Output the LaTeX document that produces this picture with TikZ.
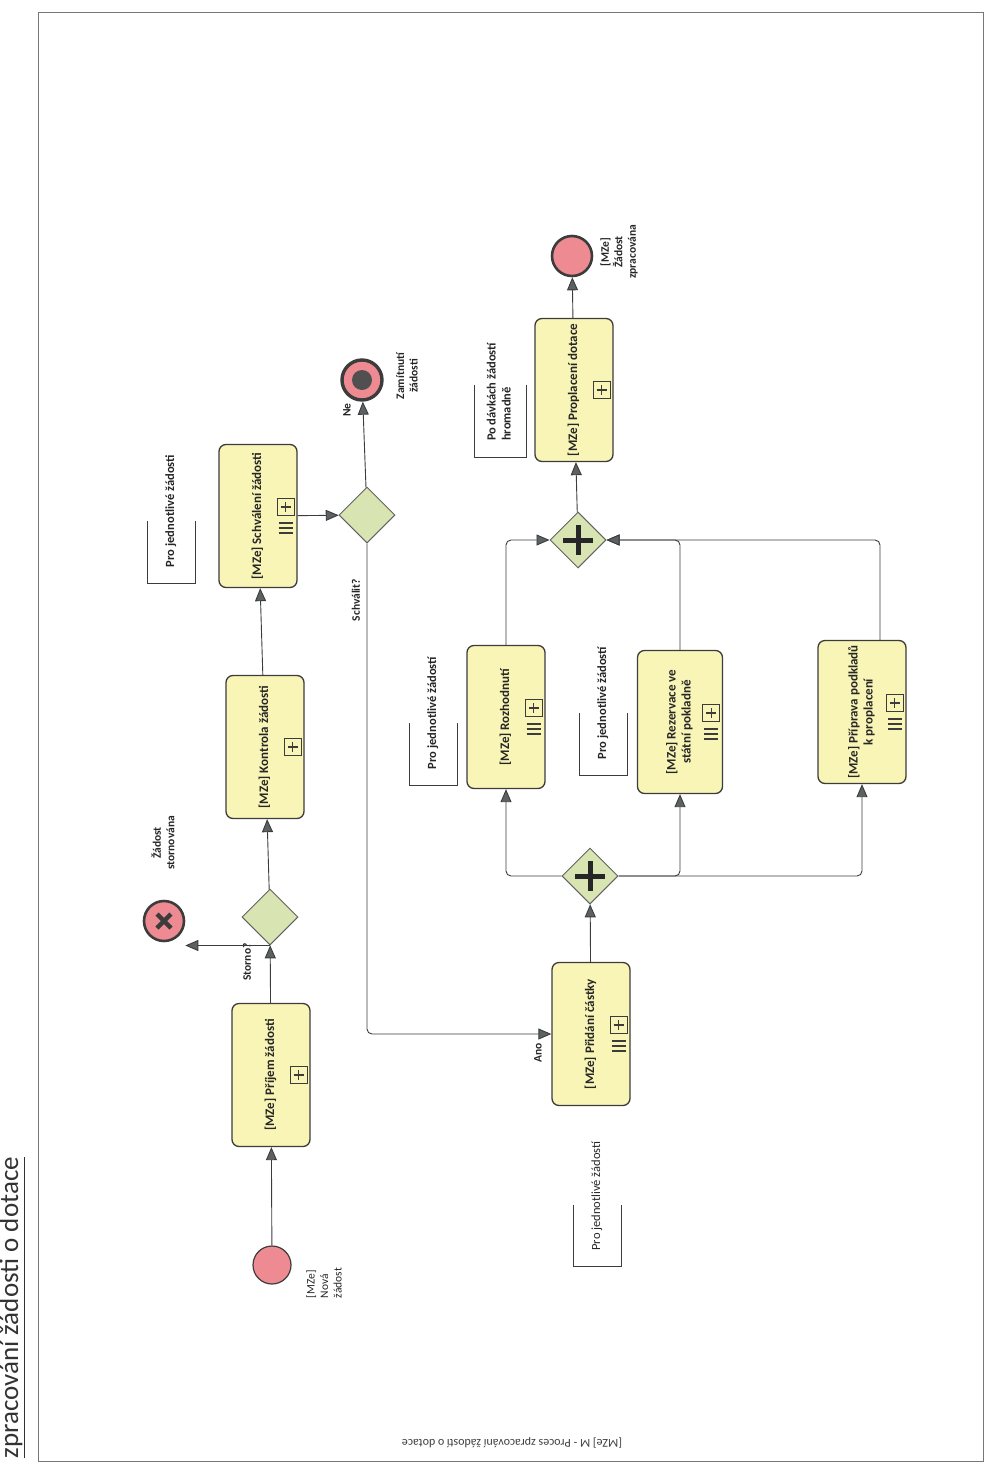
\documentclass[tikz,border=0pt]{standalone}
\usepackage{fontspec}
\setmainfont{Carlito}
\usepackage{tikz}
\usetikzlibrary{arrows.meta,shapes.geometric,positioning}
\definecolor{taskfill}{HTML}{F8F5B6}
\definecolor{gwfill}{HTML}{D8E5B2}
\definecolor{evfill}{HTML}{EE8A92}
\definecolor{linedark}{HTML}{3C3C3C}
\definecolor{tipgray}{HTML}{5C6163}
\newcommand{\rtext}[1]{\rotatebox{90}{\begin{tabular}{@{}c@{}}#1\end{tabular}}}
\newcommand{\rtextl}[1]{\rotatebox{90}{\begin{tabular}{@{}l@{}}#1\end{tabular}}}
\begin{document}
\begin{tikzpicture}[x=1pt,y=-1pt,
 task/.style={rectangle,rounded corners=7pt,draw=linedark,line width=1.3pt,fill=taskfill,minimum width=78pt,minimum height=143pt,inner sep=2pt,text=black!85,font=\fontsize{13}{15}\selectfont\bfseries},
 plusbox/.style={rectangle,draw=linedark,line width=1pt,fill=taskfill,minimum size=17pt,inner sep=0pt,
  path picture={\draw[line width=1.1pt,linedark] ([yshift=-3.5pt]path picture bounding box.north) -- ([yshift=3.5pt]path picture bounding box.south) ([xshift=3.5pt]path picture bounding box.west) -- ([xshift=-3.5pt]path picture bounding box.east);}},
 startev/.style={circle,draw=linedark,line width=1.2pt,fill=evfill,minimum size=38pt,inner sep=0pt},
 endev/.style={circle,draw=linedark,line width=2.6pt,fill=evfill,minimum size=40pt,inner sep=0pt},
 cancelev/.style={endev,path picture={\draw[line width=4.5pt,linedark] ([shift={(-7pt,-7pt)}]path picture bounding box.center) -- ([shift={(7pt,7pt)}]path picture bounding box.center) ([shift={(-7pt,7pt)}]path picture bounding box.center) -- ([shift={(7pt,-7pt)}]path picture bounding box.center);}},
 termev/.style={endev,line width=3.4pt,path picture={\fill[linedark!90] (path picture bounding box.center) circle (10pt);}},
 gateway/.style={diamond,aspect=1,draw=linedark!80,line width=1pt,fill=gwfill,minimum width=56pt,minimum height=56pt,inner sep=0pt},
 pargw/.style={gateway,path picture={\draw[line width=5pt,black!85] ([yshift=-13pt]path picture bounding box.north) -- ([yshift=13pt]path picture bounding box.south) ([xshift=13pt]path picture bounding box.west) -- ([xshift=-13pt]path picture bounding box.east);}},
 flow/.style={draw=linedark,line width=0.9pt,rounded corners=5pt,-{Triangle[length=13pt,width=11pt,fill=tipgray]}},
 note/.style={inner sep=2pt,text=black!85,font=\fontsize{12.5}{15}\selectfont\bfseries},
 bracket/.style={draw=linedark,line width=0.8pt},
 lbl/.style={text=black!85,font=\fontsize{11.5}{13.5}\selectfont\bfseries}]
\useasboundingbox (0,0) rectangle (986,1464);
\draw[linedark!70,line width=0.8pt] (38,12) rectangle (983,1461);
\node[rotate=90,anchor=west,text=black!80,font=\fontsize{27}{30}\selectfont] (nadpis) at (12,1462) {\underline{zpracování žádosti o dotace}};
\node[rotate=180,text=linedark,font=\fontsize{12}{14}\selectfont] (pata) at (512,1443) {[MZe] M - Proces zpracování žádostí o dotace};

% udalosti a ulohy
\node[startev] (start) at (272,1265) {};
\node[task] (prijem) at (271,1075) {\rtext{[MZe] Příjem žádosti}};
\node[gateway] (storno) at (270,917) {};
\node[cancelev] (zrus) at (164,921) {};
\node[task] (kontrola) at (265,747) {\rtext{[MZe] Kontrola žádosti}};
\node[task] (schvaleni) at (258,516) {\rtext{[MZe] Schválení žádosti}};
\node[gateway] (schvalit) at (367,515) {};
\node[termev] (zamit) at (362,380) {};
\node[task] (pridani) at (591,1034) {\rtext{[MZe] Přidání částky}};
\node[pargw] (split) at (590,876) {};
\node[task] (rozhod) at (506,717) {\rtext{[MZe] Rozhodnutí}};
\node[task,minimum width=85pt] (rezerv) at (680,722) {\rtext{[MZe] Rezervace ve\\státní pokladně}};
\node[task,minimum width=88pt] (priprava) at (862,712) {\rtext{[MZe] Příprava podkladů\\k proplacení}};
\node[pargw] (join) at (578,540) {};
\node[task] (proplac) at (574,390) {\rtext{[MZe] Proplacení dotace}};
\node[endev] (hotovo) at (572,256) {};

% markery podprocesu
\foreach \t in {prijem,kontrola,proplac}
 \node[plusbox] (m-\t) at ([xshift=-12]\t.east) {};
\foreach \t in {schvaleni,pridani,rozhod,rezerv,priprava} {
 \node[plusbox] (m-\t) at ([shift={(-12,-9)}]\t.east) {};
 \foreach \i in {1,2,3}
  \draw[line width=2.2pt,linedark] ([shift={(-7,2+5*\i)}]m-\t.south) -- ++(14,0);
}

% popisky
\node[lbl,rotate=90,align=left,font=\fontsize{11.5}{13.5}\selectfont] (l-start) at (324,1283) {[MZe]\\Nová\\žádost};
\node[lbl,rotate=90,align=center] (l-zrus) at (163,843) {Žádost\\stornována};
\node[lbl,rotate=90] (l-storno) at (247,962) {Storno?};
\node[lbl,rotate=90] (l-schvalit) at (356,600) {Schválit?};
\node[lbl,rotate=90] (l-ne) at (347,410) {Ne};
\node[lbl,rotate=90] (l-ano) at (538,1053) {Ano};
\node[lbl,rotate=90,align=center] (l-zamit) at (407,376) {Zamítnutí\\žádosti};
\node[lbl,rotate=90,align=center] (l-hotovo) at (619,252) {[MZe]\\Žádost\\zpracována};

% poznamky
\node[note] (a1) at (171,511) {\rtext{Pro jednotlivé žádosti}};
\draw[bracket] ([shift={(-24,-48)}]a1.south) |- ([shift={(24,14)}]a1.south) -- ++(0,-62);
\node[note,font=\fontsize{12.5}{15}\selectfont] (a2) at (597,1196) {\rtext{Pro jednotlivé žádostí}};
\draw[bracket] ([shift={(-24,-48)}]a2.south) |- ([shift={(24,14)}]a2.south) -- ++(0,-62);
\node[note] (a3) at (433,713) {\rtext{Pro jednotlivé žádostí}};
\draw[bracket] ([shift={(-24,-48)}]a3.south) |- ([shift={(24,14)}]a3.south) -- ++(0,-62);
\node[note] (a4) at (603,703) {\rtext{Pro jednotlivé žádostí}};
\draw[bracket] ([shift={(-24,-48)}]a4.south) |- ([shift={(24,14)}]a4.south) -- ++(0,-62);
\node[note] (a5) at (500,392) {\rtextl{Po dávkách žádostí\\hromadně}};
\draw[bracket] ([shift={(-26,-58)}]a5.south) |- ([shift={(26,14)}]a5.south) -- ++(0,-72);

% toky
\draw[flow] (start) -- (prijem);
\draw[flow] (prijem) -- (storno);
\draw[flow] (storno.south) -- (storno.south -| zrus.east);
\draw[flow] (storno) -- (kontrola);
\draw[flow] (kontrola) -- (schvaleni);
\draw[flow] (schvaleni) -- (schvalit);
\draw[flow] (schvalit) -- (zamit);
\draw[flow] (schvalit.south) |- (pridani.west);
\draw[flow] (pridani) -- (split);
\draw[flow] (split.west) -| (rozhod.south);
\draw[flow] (split.east) -| (rezerv.south);
\draw[flow] (split.east) -| (priprava.south);
\draw[flow] (rozhod.north) |- (join.west);
\draw[flow] (rezerv.north) |- (join.east);
\draw[flow] ([xshift=18]priprava.north) |- (join.east);
\draw[flow] (join) -- (proplac);
\draw[flow] (proplac) -- (hotovo);
\end{tikzpicture}
\end{document}
